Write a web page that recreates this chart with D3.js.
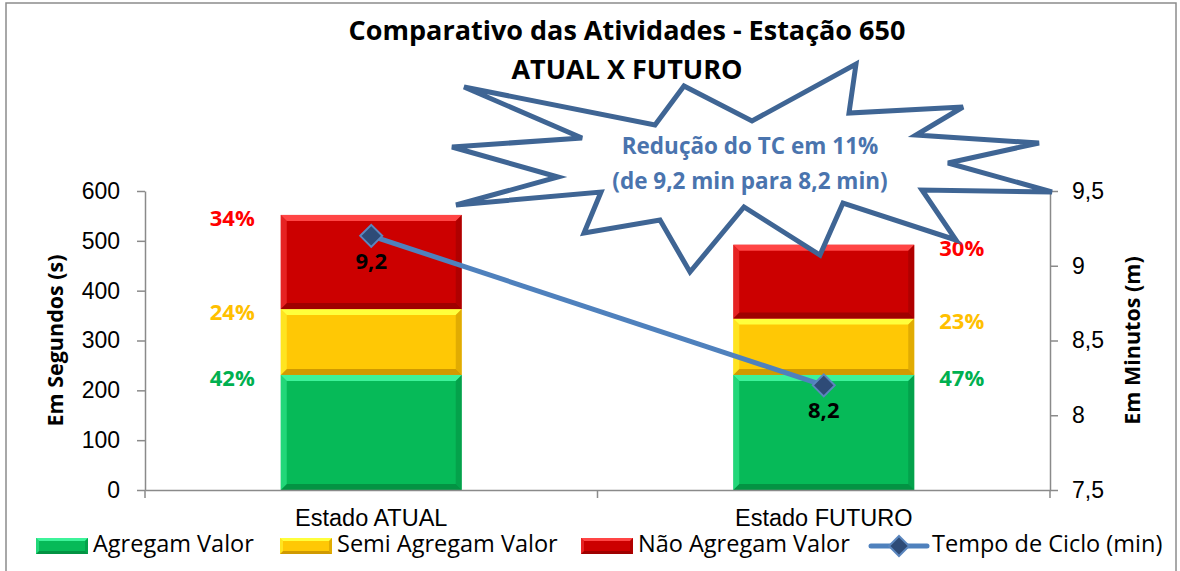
<!DOCTYPE html>
<html>
<head>
<meta charset="utf-8">
<script src="https://cdnjs.cloudflare.com/ajax/libs/d3/7.8.5/d3.min.js"></script>
<style>
  body { margin: 0; background: #fff; }
  svg { font-family: "Open Sans", "Noto Sans", sans-serif; }
</style>
</head>
<body>
<div id="chart"></div>
<script>
// Data
const categories = ["Estado ATUAL", "Estado FUTURO"];
const seriesNames = ["Agregam Valor", "Semi Agregam Valor", "Não Agregam Valor"];
const agregamValor = [231, 231];
const semiAgregamValor = [132, 113];
const naoAgregamValor = [189, 148];
const tempoCiclo = [9.2, 8.2];
const lineName = "Tempo de Ciclo (min)";
const leftTicks = [0, 100, 200, 300, 400, 500, 600];
const rightTicks = [7.5, 8, 8.5, 9, 9.5];
const titleLines = ["Comparativo das Atividades - Estação 650", "ATUAL X FUTURO"];
const calloutLines = ["Redução do TC em 11%", "(de 9,2 min para 8,2 min)"];

const ptBR = d3.formatLocale({ decimal: ",", thousands: ".", grouping: [3], currency: ["R$", ""] });
const fmt1 = ptBR.format(".1f");
const fmtTick = (d) => ptBR.format("")(d);

// Dimensions
const dimensions = {
  width: 1180,
  height: 571,
  margin: { top: 191, right: 130, bottom: 81, left: 145 }
};
const innerRight = dimensions.width - dimensions.margin.right;
const innerBottom = dimensions.height - dimensions.margin.bottom;

const colors = [
  { base: "#06BA58", light: "#3DF39A", dark: "#028A3E" },
  { base: "#FFC805", light: "#FFFF3C", dark: "#C48F00" },
  { base: "#CC0000", light: "#FF4545", dark: "#940000" }
];
const pctColors = ["#00B050", "#FFC000", "#FF0000"];
const fontSize = { tick: 23, category: 23.5, label: 22, title: 27, callout: 22.5, legend: 23.5, axisTitle: 21.5 };

const svg = d3
  .select("#chart")
  .append("svg")
  .attr("width", dimensions.width)
  .attr("height", dimensions.height);

// Border
svg
  .append("rect")
  .attr("x", 6)
  .attr("y", 3)
  .attr("width", 1170)
  .attr("height", 590)
  .attr("fill", "none")
  .attr("stroke", "#8c8c8c")
  .attr("stroke-width", 1.5);

// Scales
const xScale = d3
  .scaleBand()
  .domain(categories)
  .range([dimensions.margin.left, innerRight]);

const yLeft = d3
  .scaleLinear()
  .domain([0, 600])
  .range([innerBottom, dimensions.margin.top]);

const yRight = d3
  .scaleLinear()
  .domain([7.5, 9.5])
  .range([innerBottom, dimensions.margin.top]);

const barWidth = xScale.bandwidth() * 0.4;

// Stack
const table = categories.map((c, i) => ({
  category: c,
  [seriesNames[0]]: agregamValor[i],
  [seriesNames[1]]: semiAgregamValor[i],
  [seriesNames[2]]: naoAgregamValor[i]
}));
const stacked = d3.stack().keys(seriesNames)(table);

// Bevelled rect helper
function bevel(g, x, y, w, h, c, b) {
  g.append("rect").attr("x", x).attr("y", y).attr("width", w).attr("height", h).attr("fill", c.base);
  g.append("path")
    .attr("d", `M${x},${y}h${w}l-${b},${b}h-${w - 2 * b}z`)
    .attr("fill", c.light);
  g.append("path")
    .attr("d", `M${x},${y + h}h${w}l-${b},-${b}h-${w - 2 * b}z`)
    .attr("fill", c.dark)
    .attr("opacity", 0.8);
  g.append("path")
    .attr("d", `M${x},${y}l${b},${b}v${h - 2 * b}l-${b},${b}z`)
    .attr("fill", c.light)
    .attr("opacity", 0.5);
  g.append("path")
    .attr("d", `M${x + w},${y}l-${b},${b}v${h - 2 * b}l${b},${b}z`)
    .attr("fill", c.dark)
    .attr("opacity", 0.5);
}

// Axes
const axisColor = "#8a8a8a";
const leftAxis = svg
  .append("g")
  .attr("transform", `translate(${dimensions.margin.left},0)`)
  .call(d3.axisLeft(yLeft).tickValues(leftTicks).tickSize(8).tickSizeOuter(0).tickPadding(17));
leftAxis.select(".domain").attr("stroke", axisColor).attr("stroke-width", 1.5);
leftAxis.selectAll(".tick line").attr("stroke", axisColor).attr("stroke-width", 1.5);

const rightAxis = svg
  .append("g")
  .attr("transform", `translate(${innerRight},0)`)
  .call(d3.axisRight(yRight).tickValues(rightTicks).tickFormat(fmtTick).tickSize(8).tickSizeOuter(0).tickPadding(14));
rightAxis.select(".domain").attr("stroke", axisColor).attr("stroke-width", 1.5);
rightAxis.selectAll(".tick line").attr("stroke", axisColor).attr("stroke-width", 1.5);

svg.selectAll(".tick text")
  .attr("font-family", null)
  .style("font-size", fontSize.tick + "px")
  .attr("fill", "#000");

// Bars
stacked.forEach((layer, si) => {
  const g = svg.append("g").attr("class", "series");
  layer.forEach((d) => {
    const x = xScale(d.data.category) + (xScale.bandwidth() - barWidth) / 2;
    const y0 = yLeft(d[1]);
    const y1 = yLeft(d[0]);
    bevel(g, x, y0, barWidth, y1 - y0, colors[si], 6);
  });
});

// Bottom axis
const bottomAxis = svg
  .append("g")
  .attr("transform", `translate(0,${innerBottom})`)
  .call(d3.axisBottom(xScale).tickSize(0).tickPadding(19));
bottomAxis.select(".domain").attr("stroke", axisColor).attr("stroke-width", 1.5);
bottomAxis.selectAll("text").style("font-size", fontSize.category + "px").attr("font-family", null).attr("fill", "#000");
svg
  .append("g")
  .selectAll("line")
  .data([0, 1, 2])
  .join("line")
  .attr("x1", (d) => dimensions.margin.left + d * xScale.step())
  .attr("x2", (d) => dimensions.margin.left + d * xScale.step())
  .attr("y1", innerBottom)
  .attr("y2", innerBottom + 8)
  .attr("stroke", axisColor)
  .attr("stroke-width", 1.5);

// Percent labels
stacked.forEach((layer, si) => {
  layer.forEach((d, i) => {
    const total = d.data[seriesNames[0]] + d.data[seriesNames[1]] + d.data[seriesNames[2]];
    const cx = xScale(d.data.category) + xScale.bandwidth() / 2;
    const x = i === 0 ? cx - 139 : cx + 138;
    svg
      .append("text")
      .attr("x", x)
      .attr("y", yLeft(d[1]) + 5)
      .attr("text-anchor", "middle")
      .attr("dominant-baseline", "middle")
      .attr("font-weight", "bold")
      .style("font-size", fontSize.label + "px")
      .attr("fill", pctColors[si])
      .text(Math.round(((d[1] - d[0]) / total) * 100) + "%");
  });
});

// Line
const lineColor = "#4F81BD";
const line = d3
  .line()
  .x((d, i) => xScale(categories[i]) + xScale.bandwidth() / 2)
  .y((d) => yRight(d));

svg
  .append("path")
  .datum(tempoCiclo)
  .attr("d", line)
  .attr("fill", "none")
  .attr("stroke", lineColor)
  .attr("stroke-width", 5);

const diamond = (cx, cy, r) => `M${cx},${cy - r}L${cx + r},${cy}L${cx},${cy + r}L${cx - r},${cy}Z`;

svg
  .append("g")
  .selectAll("path")
  .data(tempoCiclo)
  .join("path")
  .attr("d", (d, i) => diamond(xScale(categories[i]) + xScale.bandwidth() / 2, yRight(d), 11))
  .attr("fill", "#2E4B77")
  .attr("stroke", "#5B86BE")
  .attr("stroke-width", 2);

svg
  .append("g")
  .selectAll("text")
  .data(tempoCiclo)
  .join("text")
  .attr("x", (d, i) => xScale(categories[i]) + xScale.bandwidth() / 2)
  .attr("y", (d) => yRight(d) + 27)
  .attr("text-anchor", "middle")
  .attr("dominant-baseline", "middle")
  .attr("font-weight", "bold")
  .style("font-size", fontSize.label + "px")
  .attr("fill", "#000")
  .text((d) => fmt1(d));

// Axis titles
svg
  .append("text")
  .attr("transform", `translate(57,${(innerBottom + dimensions.margin.top) / 2}) rotate(-90)`)
  .attr("text-anchor", "middle")
  .attr("dominant-baseline", "middle")
  .attr("font-weight", "bold")
  .style("font-size", fontSize.axisTitle + "px")
  .text("Em Segundos (s)");

svg
  .append("text")
  .attr("transform", `translate(1134,${(innerBottom + dimensions.margin.top) / 2}) rotate(-90)`)
  .attr("text-anchor", "middle")
  .attr("dominant-baseline", "middle")
  .attr("font-weight", "bold")
  .style("font-size", fontSize.axisTitle + "px")
  .text("Em Minutos (m)");

// Title
svg
  .append("g")
  .selectAll("text")
  .data(titleLines)
  .join("text")
  .attr("x", 627)
  .attr("y", (d, i) => 33 + i * 39)
  .attr("text-anchor", "middle")
  .attr("dominant-baseline", "middle")
  .attr("font-weight", "bold")
  .style("font-size", fontSize.title + "px")
  .text((d) => d);

// Callout star
const starPoints = [
  [464, 87], [655, 125], [684, 86], [752, 121], [856, 64], [849, 113],
  [963, 107], [916, 135], [1039, 143], [948, 163], [1052, 192], [922, 190],
  [956, 240], [843, 203], [820, 255], [744, 207], [690, 272], [660, 220],
  [584, 233], [601, 192], [456, 205], [558, 177], [452, 147], [582, 138]
];
svg
  .append("path")
  .attr("d", d3.line()(starPoints) + "Z")
  .attr("fill", "#fff")
  .attr("stroke", "#3F6594")
  .attr("stroke-width", 5)
  .attr("stroke-linejoin", "miter");

svg
  .append("g")
  .selectAll("text")
  .data(calloutLines)
  .join("text")
  .attr("x", 750)
  .attr("y", (d, i) => 148 + i * 35)
  .attr("text-anchor", "middle")
  .attr("dominant-baseline", "middle")
  .attr("font-weight", "bold")
  .style("font-size", fontSize.callout + "px")
  .attr("fill", "#4A74AE")
  .text((d) => d);

// Legend
const legendY = 546;
const legendX = [36, 280, 581];
const legend = svg.append("g");
seriesNames.forEach((name, i) => {
  bevel(legend, legendX[i], legendY - 8, 52, 16, colors[i], 3);
  legend
    .append("text")
    .attr("x", legendX[i] + 57)
    .attr("y", legendY)
    .attr("dominant-baseline", "middle")
    .style("font-size", fontSize.legend + "px")
    .text(name);
});
legend
  .append("line")
  .attr("x1", 871)
  .attr("x2", 927)
  .attr("y1", legendY)
  .attr("y2", legendY)
  .attr("stroke", lineColor)
  .attr("stroke-width", 5)
  .attr("stroke-linecap", "round");
legend
  .append("path")
  .attr("d", diamond(899, legendY, 10))
  .attr("fill", "#2E4B77")
  .attr("stroke", "#5B86BE")
  .attr("stroke-width", 2);
legend
  .append("text")
  .attr("x", 932)
  .attr("y", legendY)
  .attr("dominant-baseline", "middle")
  .style("font-size", fontSize.legend + "px")
  .text(lineName);
</script>
</body>
</html>
